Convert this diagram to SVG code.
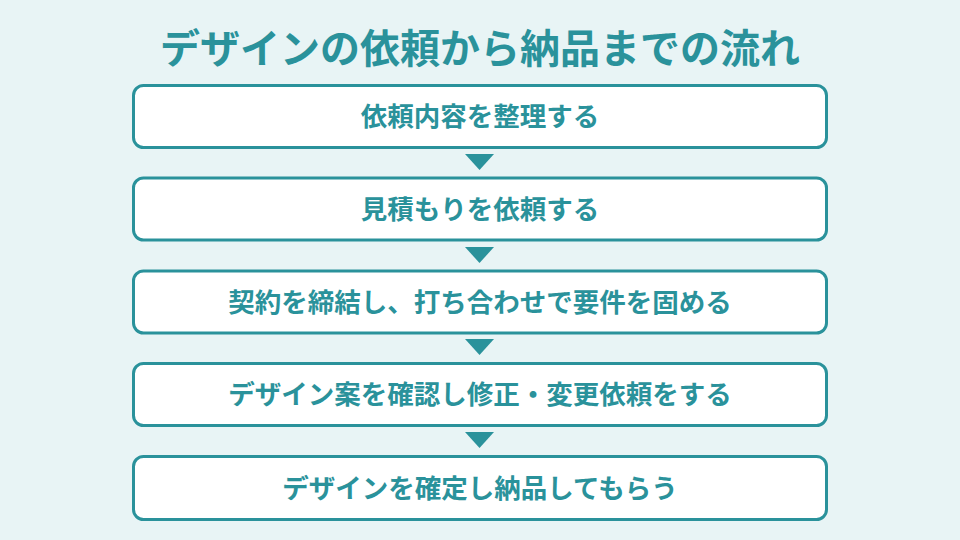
<svg xmlns="http://www.w3.org/2000/svg" width="960" height="540" viewBox="0 0 960 540">
<style>
.bg{fill:#e8f4f5}
.box{fill:#ffffff;stroke:#2a929b;stroke-width:3}
.t{font-family:"Noto Sans CJK JP","Noto Sans",sans-serif;font-weight:700;fill:#2a929b;text-anchor:middle}
.lbl{font-size:26.5px}
.title{font-size:40px}
.arr{fill:#2a929b}
</style>
<rect class="bg" x="0" y="0" width="960" height="540"/>
<text class="t title" x="480" y="63">デザインの依頼から納品までの流れ</text>
<g id="connectors">
<polygon class="arr" points="465,154 494,154 479.5,170"/>
<polygon class="arr" points="465,247 494,247 479.5,263"/>
<polygon class="arr" points="465,339 494,339 479.5,355"/>
<polygon class="arr" points="465,432 494,432 479.5,448"/>
</g>
<g id="step1"><rect class="box" x="133.5" y="85.5" width="693" height="62" rx="10"/><text class="t lbl" x="480" y="126">依頼内容を整理する</text></g>
<g id="step2"><rect class="box" x="133.5" y="178" width="693" height="62" rx="10"/><text class="t lbl" x="480" y="219">見積もりを依頼する</text></g>
<g id="step3"><rect class="box" x="133.5" y="271" width="693" height="62" rx="10"/><text class="t lbl" x="480" y="312">契約を締結し、打ち合わせで要件を固める</text></g>
<g id="step4"><rect class="box" x="133.5" y="363.5" width="693" height="62" rx="10"/><text class="t lbl" x="480" y="404">デザイン案を確認し修正・変更依頼をする</text></g>
<g id="step5"><rect class="box" x="133.5" y="456.5" width="693" height="63" rx="10"/><text class="t lbl" x="480" y="498">デザインを確定し納品してもらう</text></g>
</svg>
